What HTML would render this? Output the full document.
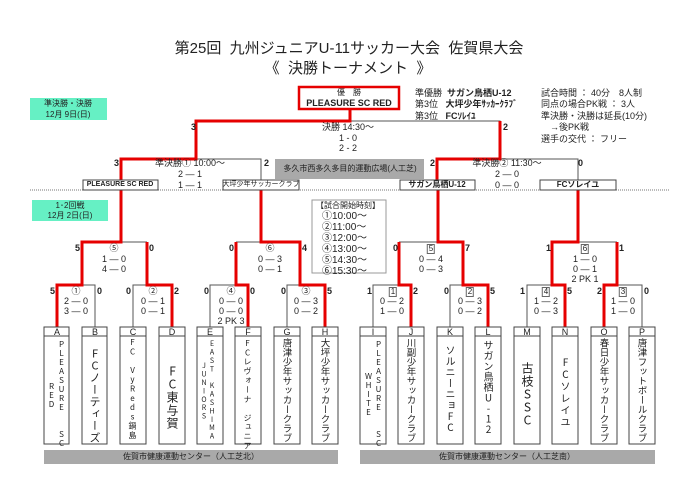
<!DOCTYPE html>
<html><head><meta charset="utf-8"><style>
body{margin:0;background:#fff;}
#w{position:relative;width:700px;height:495px;overflow:hidden;font-family:"Liberation Sans","Noto Sans CJK JP",sans-serif;color:#222;}
.t{position:absolute;white-space:nowrap;font-size:9px;line-height:10px;}
.c{transform:translateX(-50%);}
.b{font-weight:bold;}
.v{position:absolute;writing-mode:vertical-rl;text-orientation:upright;font-family:"Noto Sans CJK JP",sans-serif;white-space:nowrap;line-height:1;}
.sq{display:inline-block;border:1px solid #666;font-size:8px;line-height:8px;padding:0 1px;}
</style></head><body><div id="w">
<svg width="700" height="495" style="position:absolute;left:0;top:0">
<rect x="30" y="98" width="77" height="22" fill="#66f0c4"/>
<rect x="32" y="200" width="76" height="21" fill="#66f0c4"/>
<rect x="275" y="159" width="149" height="20" fill="#a9a9a9"/>
<rect x="44" y="450" width="294" height="14" fill="#a9a9a9"/>
<rect x="360" y="450" width="295" height="14" fill="#a9a9a9"/>
<rect x="312" y="200" width="74" height="73" fill="#fff" stroke="#999" stroke-width="1"/>
<line x1="30" y1="190" x2="670" y2="190" stroke="#777" stroke-dasharray="1,1"/>
<g stroke="#555" stroke-width="1" fill="none">
<polyline points="350,121 500,121 500,159"/>
<polyline points="196,159 261,159 261,180"/>
<polyline points="500,159 578,159 578,180"/>
<polyline points="121,242 147,242"/><polyline points="236,242 261,242"/>
<polyline points="399,242 438,242"/><polyline points="578,242 617,242"/>
<polyline points="82,285 95,285 95,327"/>
<polyline points="133,327 133,285 147,285"/>
<polyline points="210,327 210,285 236,285"/>
<polyline points="287,327 287,285 300,285"/>
<polyline points="373,327 373,285 399,285"/>
<polyline points="450,327 450,285 463,285"/>
<polyline points="527,327 527,285 552,285"/>
<polyline points="617,285 642,285 642,327"/>
</g>
<g stroke="#e60000" stroke-width="3" fill="none">
<polyline points="350,109 350,121 196,121 196,159 121,159 121,180"/>
<polyline points="500,121 500,159 437,159 437,180"/>
<polyline points="121,190 121,242 82,242 82,285 57,285 57,327"/>
<polyline points="147,242 147,285 172,285 172,327"/>
<polyline points="261,190 261,242 300,242 300,285 325,285 325,327"/>
<polyline points="236,242 236,285 248,285 248,327"/>
<polyline points="438,190 438,242 463,242 463,285 488,285 488,327"/>
<polyline points="399,242 399,285 411,285 411,327"/>
<polyline points="578,190 578,242 552,242 552,285 565,285 565,327"/>
<polyline points="617,242 617,285 604,285 604,327"/>
</g>
<rect x="299" y="87" width="100" height="22" fill="#fff" stroke="#e60000" stroke-width="2.5"/>
<g fill="#fff" stroke="#444" stroke-width="1">
<rect x="83" y="180" width="75" height="10"/><rect x="223" y="180" width="76" height="10"/>
<rect x="400" y="180" width="75" height="10"/><rect x="540" y="180" width="76" height="10"/>
</g>
<g fill="#fff" stroke="#444" stroke-width="1">
<rect x="44" y="327" width="25" height="9"/><rect x="44" y="336" width="25" height="108"/>
<rect x="82" y="327" width="25" height="9"/><rect x="82" y="336" width="25" height="108"/>
<rect x="120" y="327" width="26" height="9"/><rect x="120" y="336" width="26" height="108"/>
<rect x="159" y="327" width="26" height="9"/><rect x="159" y="336" width="26" height="108"/>
<rect x="197" y="327" width="26" height="9"/><rect x="197" y="336" width="26" height="108"/>
<rect x="235" y="327" width="26" height="9"/><rect x="235" y="336" width="26" height="108"/>
<rect x="274" y="327" width="26" height="9"/><rect x="274" y="336" width="26" height="108"/>
<rect x="312" y="327" width="26" height="9"/><rect x="312" y="336" width="26" height="108"/>
<rect x="360" y="327" width="26" height="9"/><rect x="360" y="336" width="26" height="108"/>
<rect x="398" y="327" width="26" height="9"/><rect x="398" y="336" width="26" height="108"/>
<rect x="437" y="327" width="26" height="9"/><rect x="437" y="336" width="26" height="108"/>
<rect x="475" y="327" width="26" height="9"/><rect x="475" y="336" width="26" height="108"/>
<rect x="514" y="327" width="26" height="9"/><rect x="514" y="336" width="26" height="108"/>
<rect x="552" y="327" width="26" height="9"/><rect x="552" y="336" width="26" height="108"/>
<rect x="591" y="327" width="26" height="9"/><rect x="591" y="336" width="26" height="108"/>
<rect x="629" y="327" width="26" height="9"/><rect x="629" y="336" width="26" height="108"/>
</g>
</svg>

<div class="t c" style="left:349px;top:40px;font-size:15px;line-height:17px;">第25回&nbsp; 九州ジュニアU-11サッカー大会&nbsp; 佐賀県大会</div>
<div class="t c" style="left:348px;top:60px;font-size:15px;line-height:17px;">《&nbsp; 決勝トーナメント&nbsp; 》</div>
<div class="t c" style="left:349px;top:88px;font-size:8px;">優　勝</div>
<div class="t c b" style="left:349px;top:98px;">PLEASURE SC RED</div>
<div class="t" style="left:415px;top:88px;">準優勝&nbsp; <b>サガン鳥栖U-12</b></div>
<div class="t" style="left:415px;top:99px;">第3位&nbsp;&nbsp; <b>大坪少年ｻｯｶｰｸﾗﾌﾞ</b></div>
<div class="t" style="left:415px;top:111px;">第3位&nbsp;&nbsp; <b>FCｿﾚｲﾕ</b></div>
<div class="t" style="left:541px;top:88px;">試合時間 ： 40分　8人制</div>
<div class="t" style="left:541px;top:99px;">同点の場合PK戦 ： 3人</div>
<div class="t" style="left:541px;top:111px;">準決勝・決勝は延長(10分)</div>
<div class="t" style="left:541px;top:122px;">　→後PK戦</div>
<div class="t" style="left:541px;top:134px;">選手の交代 ： フリー</div>
<div class="t c" style="left:68px;top:99px;font-size:8px;">準決勝・決勝</div>
<div class="t c" style="left:68px;top:110px;font-size:8px;">12月 9日(日)</div>
<div class="t c" style="left:70px;top:201px;font-size:8px;">1･2回戦</div>
<div class="t c" style="left:70px;top:211px;font-size:8px;">12月 2日(日)</div>

<div class="t b" style="left:191px;top:122px;">3</div>
<div class="t b" style="left:503px;top:122px;">2</div>
<div class="t c" style="left:348px;top:122px;">決勝 14:30〜</div>
<div class="t c" style="left:348px;top:133px;">1 - 0</div>
<div class="t c" style="left:348px;top:143px;">2 - 2</div>

<div class="t b" style="left:114px;top:158px;">3</div>
<div class="t c" style="left:190px;top:158px;">準決勝① 10:00〜</div>
<div class="t c" style="left:190px;top:169px;">2 — 1</div>
<div class="t c" style="left:190px;top:180px;">1 — 1</div>
<div class="t b" style="left:264px;top:158px;">2</div>
<div class="t b" style="left:430px;top:158px;">2</div>
<div class="t c" style="left:507px;top:158px;">準決勝② 11:30〜</div>
<div class="t c" style="left:507px;top:169px;">2 — 0</div>
<div class="t c" style="left:507px;top:180px;">0 — 0</div>
<div class="t b" style="left:578px;top:158px;">0</div>
<div class="t c" style="left:350px;top:164px;font-size:8px;">多久市西多久多目的運動広場(人工芝)</div>
<div class="t c b" style="left:120px;top:180px;font-size:7px;">PLEASURE SC RED</div>
<div class="t c" style="left:261px;top:180px;font-size:7px;">大坪少年サッカークラブ</div>
<div class="t c b" style="left:437px;top:180px;font-size:8px;">サガン鳥栖U-12</div>
<div class="t c b" style="left:578px;top:180px;font-size:8px;">FCソレイユ</div>

<div class="t" style="left:316px;top:201px;font-size:8px;">【試合開始時刻】</div>
<div class="t" style="left:322px;top:211px;font-size:10px;line-height:11px;">①10:00〜<br>②11:00〜<br>③12:00〜<br>④13:00〜<br>⑤14:30〜<br>⑥15:30〜</div>

<div class="t b" style="left:75px;top:243px;">5</div><div class="t c" style="left:114px;top:243px;">⑤</div><div class="t b" style="left:149px;top:243px;">0</div>
<div class="t c" style="left:114px;top:254px;">1 — 0</div><div class="t c" style="left:114px;top:264px;">4 — 0</div>
<div class="t b" style="left:229px;top:243px;">0</div><div class="t c" style="left:270px;top:243px;">⑥</div><div class="t b" style="left:302px;top:243px;">4</div>
<div class="t c" style="left:270px;top:254px;">0 — 3</div><div class="t c" style="left:270px;top:264px;">0 — 1</div>
<div class="t b" style="left:50px;top:286px;">5</div><div class="t c" style="left:76px;top:286px;">①</div><div class="t b" style="left:97px;top:286px;">0</div>
<div class="t c" style="left:76px;top:296px;">2 — 0</div><div class="t c" style="left:76px;top:306px;">3 — 0</div>
<div class="t b" style="left:126px;top:286px;">0</div><div class="t c" style="left:153px;top:286px;">②</div><div class="t b" style="left:174px;top:286px;">2</div>
<div class="t c" style="left:153px;top:296px;">0 — 1</div><div class="t c" style="left:153px;top:306px;">0 — 1</div>
<div class="t b" style="left:204px;top:286px;">0</div><div class="t c" style="left:231px;top:286px;">④</div><div class="t b" style="left:250px;top:286px;">0</div>
<div class="t c" style="left:231px;top:296px;">0 — 0</div><div class="t c" style="left:231px;top:306px;">0 — 0</div><div class="t c" style="left:231px;top:316px;">2 PK 3</div>
<div class="t b" style="left:281px;top:286px;">0</div><div class="t c" style="left:306px;top:286px;">③</div><div class="t b" style="left:327px;top:286px;">5</div>
<div class="t c" style="left:306px;top:296px;">0 — 3</div><div class="t c" style="left:306px;top:306px;">0 — 2</div>
<div class="t b" style="left:393px;top:243px;">0</div><div class="t c" style="left:431px;top:243px;"><span class="sq">5</span></div><div class="t b" style="left:465px;top:243px;">7</div>
<div class="t c" style="left:431px;top:254px;">0 — 4</div><div class="t c" style="left:431px;top:264px;">0 — 3</div>
<div class="t b" style="left:546px;top:243px;">1</div><div class="t c" style="left:585px;top:243px;"><span class="sq">6</span></div><div class="t b" style="left:619px;top:243px;">1</div>
<div class="t c" style="left:585px;top:254px;">1 — 0</div><div class="t c" style="left:585px;top:264px;">0 — 1</div><div class="t c" style="left:585px;top:274px;">2 PK 1</div>
<div class="t b" style="left:367px;top:286px;">1</div><div class="t c" style="left:393px;top:286px;"><span class="sq">1</span></div><div class="t b" style="left:413px;top:286px;">2</div>
<div class="t c" style="left:392px;top:296px;">0 — 2</div><div class="t c" style="left:392px;top:306px;">1 — 0</div>
<div class="t b" style="left:444px;top:286px;">0</div><div class="t c" style="left:470px;top:286px;"><span class="sq">2</span></div><div class="t b" style="left:490px;top:286px;">5</div>
<div class="t c" style="left:470px;top:296px;">0 — 3</div><div class="t c" style="left:470px;top:306px;">0 — 2</div>
<div class="t b" style="left:520px;top:286px;">1</div><div class="t c" style="left:546px;top:286px;"><span class="sq">4</span></div><div class="t b" style="left:567px;top:286px;">5</div>
<div class="t c" style="left:546px;top:296px;">1 — 2</div><div class="t c" style="left:546px;top:306px;">0 — 3</div>
<div class="t b" style="left:597px;top:286px;">2</div><div class="t c" style="left:623px;top:286px;"><span class="sq">3</span></div><div class="t b" style="left:644px;top:286px;">0</div>
<div class="t c" style="left:623px;top:296px;">1 — 0</div><div class="t c" style="left:623px;top:306px;">1 — 0</div>

<div class="t c" style="left:57px;top:327px;">A</div><div class="t c" style="left:95px;top:327px;">B</div>
<div class="t c" style="left:133px;top:327px;">C</div><div class="t c" style="left:172px;top:327px;">D</div>
<div class="t c" style="left:210px;top:327px;">E</div><div class="t c" style="left:248px;top:327px;">F</div>
<div class="t c" style="left:287px;top:327px;">G</div><div class="t c" style="left:325px;top:327px;">H</div>
<div class="t c" style="left:373px;top:327px;">I</div><div class="t c" style="left:411px;top:327px;">J</div>
<div class="t c" style="left:450px;top:327px;">K</div><div class="t c" style="left:488px;top:327px;">L</div>
<div class="t c" style="left:527px;top:327px;">M</div><div class="t c" style="left:565px;top:327px;">N</div>
<div class="t c" style="left:604px;top:327px;">O</div><div class="t c" style="left:642px;top:327px;">P</div>

<div class="v" style="left:57px;top:340px;font-size:8px;letter-spacing:1px;">PLEASURE　 SC</div>
<div class="v" style="left:47px;top:382px;font-size:8px;letter-spacing:1px;">RED</div>
<div class="v" style="left:89px;top:348px;font-size:11px;letter-spacing:1px;">FCノーティーズ</div>
<div class="v" style="left:128px;top:338px;font-size:8px;letter-spacing:1.3px;">FC　VyReds鍋島</div>
<div class="v" style="left:166px;top:365px;font-size:12px;letter-spacing:1px;">FC東与賀</div>
<div class="v" style="left:208px;top:340px;font-size:7px;letter-spacing:1.4px;">EAST　KASHIMA</div>
<div class="v" style="left:200px;top:362px;font-size:7px;letter-spacing:1.4px;">JUNIORS</div>
<div class="v" style="left:243px;top:339px;font-size:8px;letter-spacing:1.3px;">FCレヴォーナ　ジュニア</div>
<div class="v" style="left:282px;top:338px;font-size:9.5px;">唐津少年サッカークラブ</div>
<div class="v" style="left:320px;top:338px;font-size:9.5px;">大坪少年サッカークラブ</div>
<div class="v" style="left:374px;top:340px;font-size:8px;letter-spacing:1px;">PLEASURE　 SC</div>
<div class="v" style="left:364px;top:372px;font-size:8px;letter-spacing:1px;">WHITE</div>
<div class="v" style="left:406px;top:338px;font-size:9.5px;">川副少年サッカークラブ</div>
<div class="v" style="left:445px;top:345px;font-size:10px;letter-spacing:1px;">ソルニーニョFC</div>
<div class="v" style="left:483px;top:340px;font-size:10px;letter-spacing:0.5px;">サガン鳥栖U-12</div>
<div class="v" style="left:521px;top:362px;font-size:12px;letter-spacing:1px;">古枝SSC</div>
<div class="v" style="left:560px;top:357px;font-size:10px;letter-spacing:2px;">FCソレイユ</div>
<div class="v" style="left:599px;top:338px;font-size:9.5px;">春日少年サッカークラブ</div>
<div class="v" style="left:637px;top:338px;font-size:9.5px;">唐津フットボールクラブ</div>

<div class="t c" style="left:191px;top:452px;font-size:8px;">佐賀市健康運動センター（人工芝北）</div>
<div class="t c" style="left:507px;top:452px;font-size:8px;">佐賀市健康運動センター（人工芝南）</div>
</div></body></html>
